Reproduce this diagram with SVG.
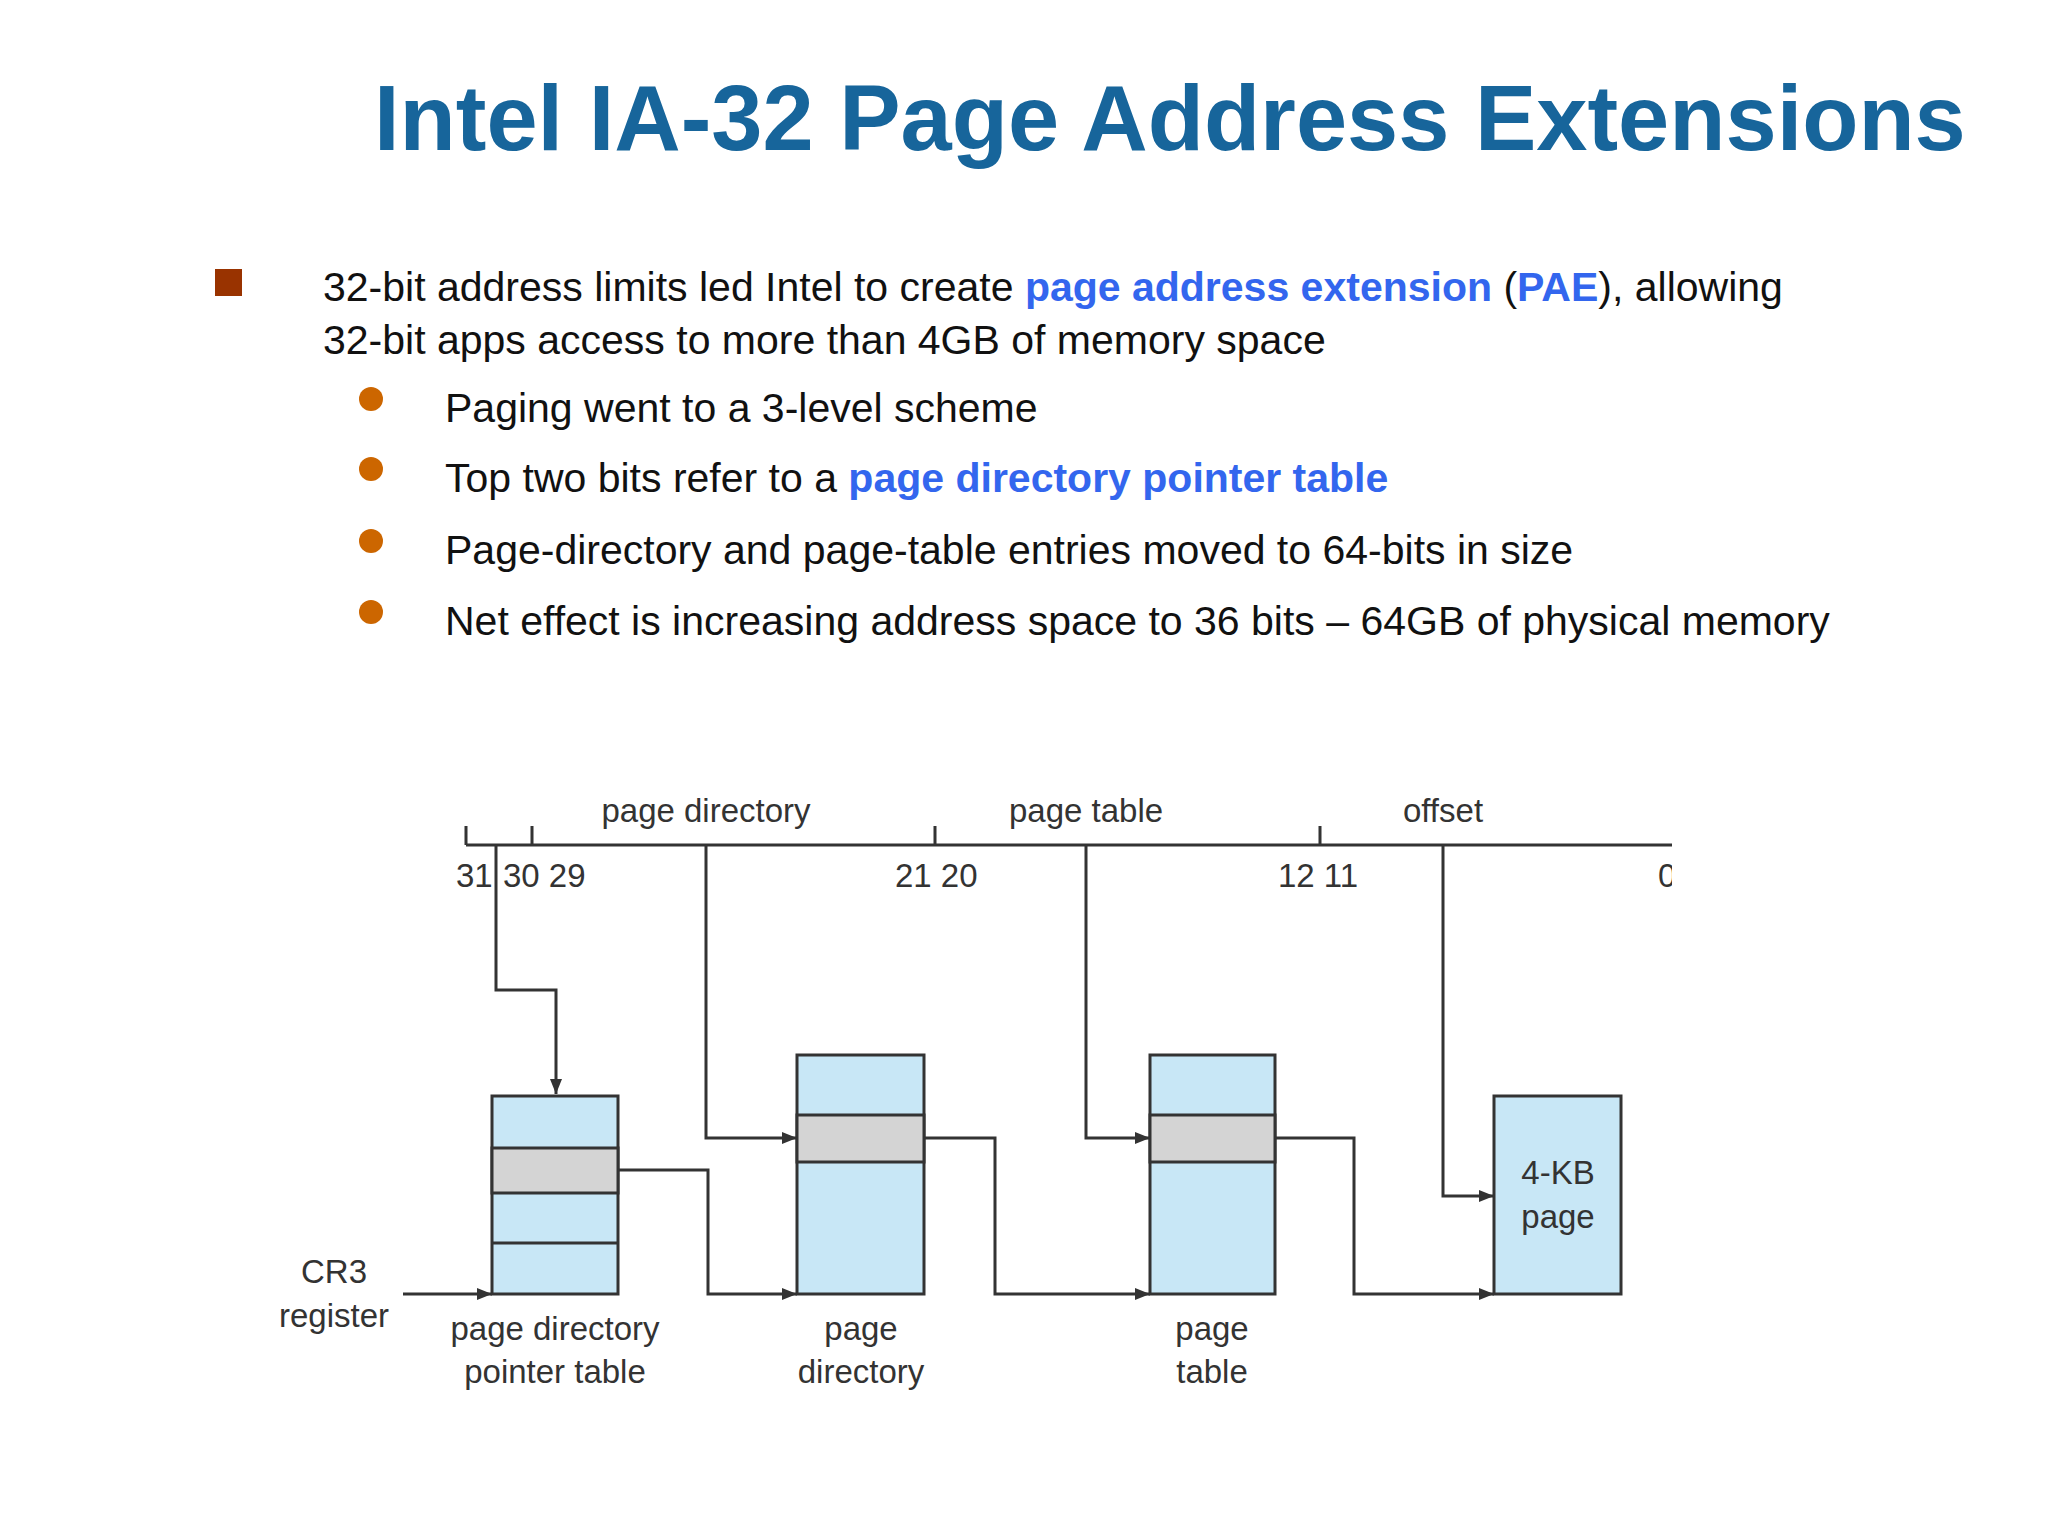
<svg xmlns="http://www.w3.org/2000/svg" width="2048" height="1536" viewBox="0 0 2048 1536">
<defs>
<style>
.t{font-family:"Liberation Sans",Arial,sans-serif;fill:#111;font-size:41px}
.hl{fill:#3366ee;font-weight:bold}
.d{font-family:"Liberation Sans",Arial,sans-serif;fill:#333;font-size:33px}
.c{text-anchor:middle}
.ln{fill:none;stroke:#333;stroke-width:3}
.box{fill:#c8e7f6;stroke:#333;stroke-width:3}
.gr{fill:#d4d4d4;stroke:#333;stroke-width:3}
</style>
<marker id="a" viewBox="0 0 10 10" refX="10" refY="5" markerWidth="5" markerHeight="5" orient="auto"><path d="M0,1 L10,5 L0,9 z" fill="#333"/></marker>
<clipPath id="cl"><rect x="0" y="0" width="1672" height="1536"/></clipPath>
</defs>
<rect width="2048" height="1536" fill="#fff"/>
<text x="374" y="150" font-family="Liberation Sans,Arial,sans-serif" font-weight="bold" font-size="92" fill="#17659b">Intel IA-32 Page Address Extensions</text>
<rect x="215" y="269" width="27" height="27" fill="#993300"/>
<text class="t" x="323" y="301">32-bit address limits led Intel to create <tspan class="hl">page address extension</tspan> (<tspan class="hl">PAE</tspan>), allowing</text>
<text class="t" x="323" y="354">32-bit apps access to more than 4GB of memory space</text>
<g fill="#cc6600"><circle cx="371" cy="399" r="12"/><circle cx="371" cy="469" r="12"/><circle cx="371" cy="541" r="12"/><circle cx="371" cy="612" r="12"/></g>
<text class="t" x="445" y="422">Paging went to a 3-level scheme</text>
<text class="t" x="445" y="492">Top two bits refer to a <tspan class="hl">page directory pointer table</tspan></text>
<text class="t" x="445" y="564">Page-directory and page-table entries moved to 64-bits in size</text>
<text class="t" x="445" y="635">Net effect is increasing address space to 36 bits – 64GB of physical memory</text>

<g id="address">
<path class="ln" d="M466,845 H1672 M466,826 V845 M532,826 V845 M935,826 V845 M1320,826 V845"/>
<text class="d c" x="706" y="822">page directory</text>
<text class="d c" x="1086" y="822">page table</text>
<text class="d c" x="1443" y="822">offset</text>
<text class="d" x="456" y="887">31</text>
<text class="d" x="503" y="887">30 29</text>
<text class="d" x="895" y="887">21 20</text>
<text class="d" x="1278" y="887">12 11</text>
<text class="d" x="1658" y="887" clip-path="url(#cl)">0</text>
</g>
<g id="pdpt">
<rect class="box" x="492" y="1096" width="126" height="198"/>
<rect class="gr" x="492" y="1148" width="126" height="45"/>
<path class="ln" d="M492,1243 H618"/>
<text class="d c" x="555" y="1340">page directory</text>
<text class="d c" x="555" y="1383">pointer table</text>
</g>
<g id="pd">
<rect class="box" x="797" y="1055" width="127" height="239"/>
<rect class="gr" x="797" y="1115" width="127" height="47"/>
<text class="d c" x="861" y="1340">page</text>
<text class="d c" x="861" y="1383">directory</text>
</g>
<g id="pt">
<rect class="box" x="1150" y="1055" width="125" height="239"/>
<rect class="gr" x="1150" y="1115" width="125" height="47"/>
<text class="d c" x="1212" y="1340">page</text>
<text class="d c" x="1212" y="1383">table</text>
</g>
<g id="page">
<rect class="box" x="1494" y="1096" width="127" height="198"/>
<text class="d c" x="1558" y="1184">4-KB</text>
<text class="d c" x="1558" y="1228">page</text>
</g>
<g id="cr3">
<text class="d c" x="334" y="1283">CR3</text>
<text class="d c" x="334" y="1327">register</text>
</g>
<g id="connectors">
<path class="ln" marker-end="url(#a)" d="M403,1294 H492"/>
<path class="ln" marker-end="url(#a)" d="M496,845 V990 H556 V1094"/>
<path class="ln" marker-end="url(#a)" d="M706,845 V1138 H797"/>
<path class="ln" marker-end="url(#a)" d="M1086,845 V1138 H1150"/>
<path class="ln" marker-end="url(#a)" d="M1443,845 V1196 H1494"/>
<path class="ln" marker-end="url(#a)" d="M618,1170 H708 V1294 H797"/>
<path class="ln" marker-end="url(#a)" d="M924,1138 H995 V1294 H1150"/>
<path class="ln" marker-end="url(#a)" d="M1275,1138 H1354 V1294 H1494"/>
</g>
</svg>
